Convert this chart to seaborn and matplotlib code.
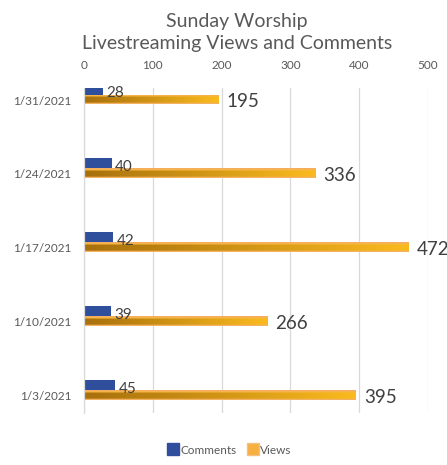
"""
Sunday Worship livestreaming chart - views and comments per Sunday
"""

import numpy as np
import pandas as pd
import matplotlib
matplotlib.use('Agg')
import matplotlib.pyplot as plt
import matplotlib.transforms as mtransforms
import seaborn as sns

# Data
dates = ['1/31/2021', '1/24/2021', '1/17/2021', '1/10/2021', '1/3/2021']
comments = [28, 40, 42, 39, 45]
views = [195, 336, 472, 266, 395]
series = ['Comments', 'Views']
x_ticks = [0, 100, 200, 300, 400, 500]

title_lines = ['Sunday Worship', 'Livestreaming Views and Comments']

# Style
sns.set_theme(style='white')
plt.rcParams['font.family'] = ['Lato', 'DejaVu Sans']

blue = '#2F4E9B'
gold = '#F2B12E'
text_gray = '#595959'
label_gray = '#404040'
grid_gray = '#D9D9D9'

df = pd.DataFrame({
    'Date': dates * 2,
    'Value': comments + views,
    'Series': ['Comments'] * len(dates) + ['Views'] * len(dates),
})

fig = plt.figure(figsize=(4.47, 4.65), dpi=100)
ax = fig.add_axes([84 / 447, 1 - 413 / 465, (428 - 84) / 447, (413 - 88) / 465])

sns.barplot(data=df, x='Value', y='Date', hue='Series', order=dates,
            hue_order=series, palette=[blue, gold], orient='h',
            width=0.27, dodge=True, linewidth=0, saturation=1,
            legend=False, ax=ax)

# gradient fill on the views bars (dark brown -> gold, lighter edges)
grad = np.zeros((8, 64, 3))
dark = np.array([0.66, 0.44, 0.05])
light = np.array([0.98, 0.73, 0.12])
for j in range(64):
    t = j / 63
    grad[:, j] = dark * (1 - t) + light * t
grad[0] = np.array([0.96, 0.68, 0.38])
grad[1] = np.array([0.97, 0.72, 0.25])
grad[-1] = np.array([0.96, 0.70, 0.38])
for patch in ax.containers[1]:
    x0, y0 = patch.get_x(), patch.get_y()
    w, h = patch.get_width(), patch.get_height()
    im = ax.imshow(grad, extent=(x0, x0 + w, y0 + h, y0), aspect='auto',
                   interpolation='bilinear', zorder=patch.get_zorder() + 0.1)
    im.set_clip_path(patch)
ax.set_xlim(0, 500)
ax.set_ylim(4.31, -0.088)

# value labels
for patch, val in zip(ax.containers[0], comments):
    yc = patch.get_y() + patch.get_height() / 2
    ax.annotate(str(val), (patch.get_width(), yc), xytext=(2.5, -2.5),
                textcoords='offset points', ha='left', va='center',
                fontsize=11, color=label_gray, zorder=5)
for patch, val in zip(ax.containers[1], views):
    yc = patch.get_y() + patch.get_height() / 2
    ax.annotate(str(val), (patch.get_width(), yc), xytext=(6, -1.5),
                textcoords='offset points', ha='left', va='center',
                fontsize=13.5, color=label_gray, zorder=5)

# axes look
ax.xaxis.tick_top()
ax.set_xticks(x_ticks)
ax.set_xticklabels([str(t) for t in x_ticks])
ax.tick_params(axis='x', length=0, pad=12, labelsize=8.5, labelcolor=text_gray)
ax.tick_params(axis='y', length=0, pad=9, labelsize=8.5, labelcolor=text_gray)
ax.set_xlabel('')
ax.set_ylabel('')
ax.grid(axis='x', color=grid_gray, linewidth=0.9)
ax.set_axisbelow(True)
for side in ['top', 'right', 'bottom']:
    ax.spines[side].set_visible(False)
ax.spines['left'].set_color(grid_gray)
ax.spines['left'].set_linewidth(0.9)

shift = mtransforms.ScaledTranslation(0, -5.5 / 100, fig.dpi_scale_trans)
for lbl in ax.get_yticklabels():
    lbl.set_transform(lbl.get_transform() + shift)

# title
fig.text(237 / 447, 1 - 21 / 465, title_lines[0], ha='center', va='center',
         fontsize=14, color=text_gray)
fig.text(237 / 447, 1 - 43 / 465, title_lines[1], ha='center', va='center',
         fontsize=14, color=text_gray)

# legend
handles = [plt.Line2D([], [], marker='s', linestyle='', markersize=8,
                      markerfacecolor=blue, markeredgecolor=blue),
           plt.Line2D([], [], marker='s', linestyle='', markersize=8,
                      markerfacecolor='#F5B040', markeredgecolor='#F5C080')]
fig.legend(handles, series, loc='center', bbox_to_anchor=(230 / 447, 1 - 450 / 465),
           ncol=2, frameon=False, fontsize=8.5, handlelength=0.8,
           handletextpad=0.2, columnspacing=1.0, labelcolor=text_gray)

plt.savefig('out.png', dpi=100)
